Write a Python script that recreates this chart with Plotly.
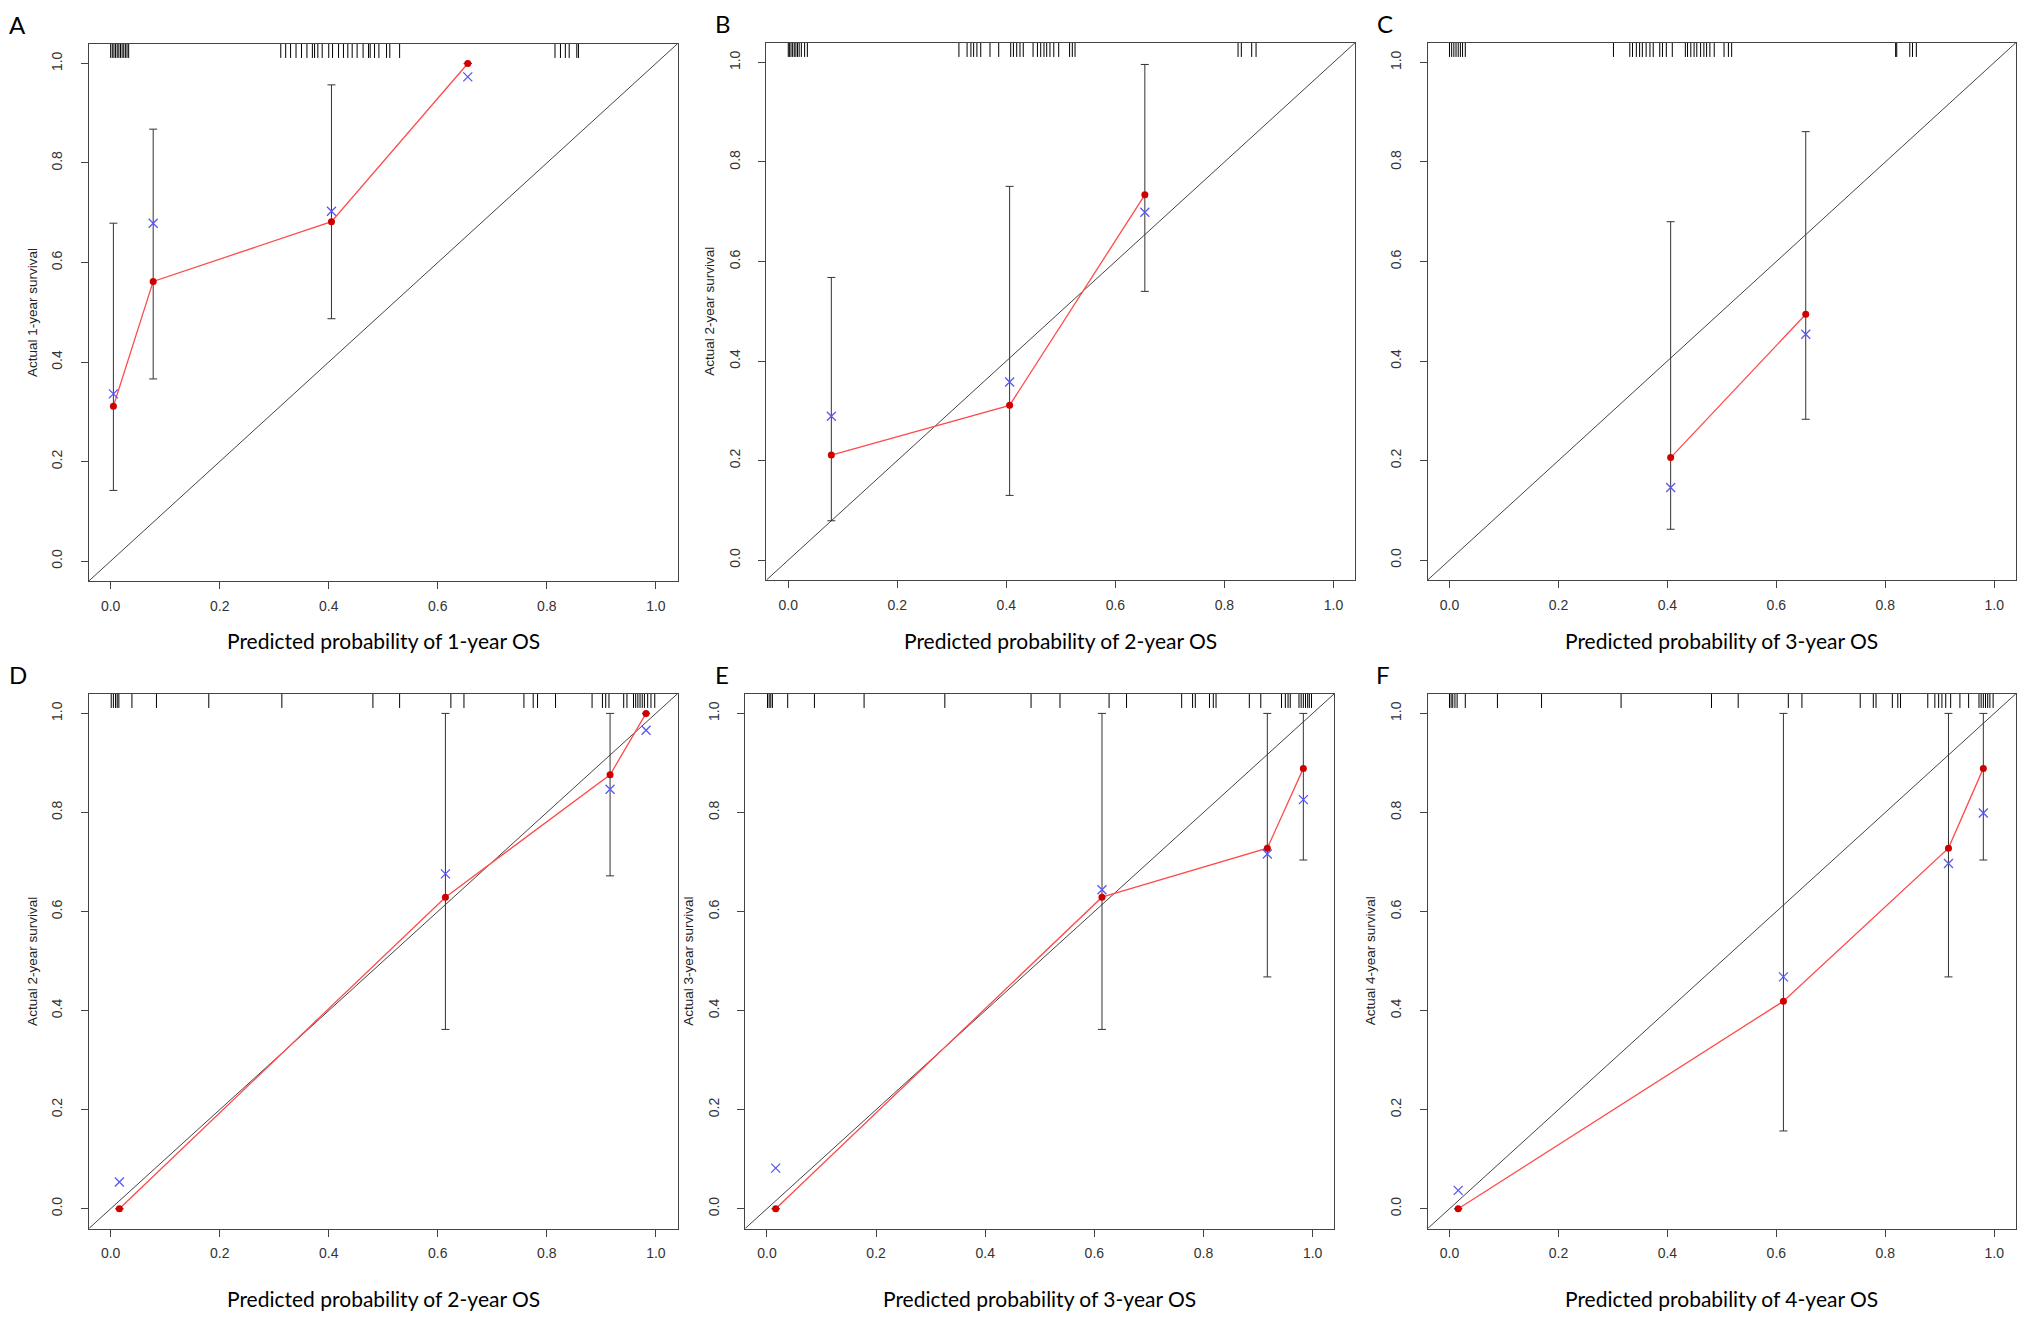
import plotly.graph_objects as go

# the page keeps its default 8px body margin, so the figure is a bit smaller than
# the 2026x1321 reference; all placement below is in reference pixels
REF_W = 2026
REF_H = 1321
FIG_W = 2010
FIG_H = 1305

AXIS_RANGE = [-0.04, 1.04]
TICKS = [0.0, 0.2, 0.4, 0.6, 0.8, 1.0]
RUG_Y = 1.028

# A: 1-year OS (first cohort)
A_PRED = [0.005, 0.078, 0.405, 0.655]
A_OBS = [0.311, 0.562, 0.682, 1.000]
A_KM = [0.336, 0.679, 0.703, 0.973]
A_LOW = [0.142, 0.366, 0.487, 1.000]
A_HIGH = [0.679, 0.868, 0.957, 1.000]
A_RUG = [0.000, 0.003, 0.006, 0.009, 0.012, 0.015, 0.018, 0.021, 0.024, 0.027, 0.030, 0.033,
         0.312, 0.321, 0.330, 0.340, 0.350, 0.360, 0.370, 0.374, 0.380, 0.388, 0.400, 0.407,
         0.418, 0.427, 0.435, 0.443, 0.452, 0.463, 0.473, 0.476, 0.484, 0.492, 0.506, 0.512,
         0.530, 0.815, 0.825, 0.834, 0.841, 0.855, 0.858]

# B: 2-year OS (first cohort)
B_PRED = [0.079, 0.406, 0.654]
B_OBS = [0.211, 0.311, 0.734]
B_KM = [0.289, 0.358, 0.699]
B_LOW = [0.079, 0.130, 0.540]
B_HIGH = [0.568, 0.751, 0.996]
B_RUG = [0.000, 0.002, 0.005, 0.008, 0.011, 0.014, 0.017, 0.020, 0.024, 0.030, 0.035,
         0.313, 0.328, 0.335, 0.340, 0.346, 0.353, 0.370, 0.386, 0.408, 0.413, 0.419, 0.425,
         0.431, 0.449, 0.457, 0.463, 0.469, 0.474, 0.480, 0.487, 0.496, 0.516, 0.521, 0.526,
         0.825, 0.831, 0.850, 0.858]

# C: 3-year OS (first cohort)
C_PRED = [0.406, 0.654]
C_OBS = [0.206, 0.494]
C_KM = [0.146, 0.454]
C_LOW = [0.062, 0.283]
C_HIGH = [0.680, 0.861]
C_RUG = [0.000, 0.004, 0.008, 0.012, 0.016, 0.020, 0.024, 0.029,
         0.301, 0.331, 0.336, 0.343, 0.349, 0.354, 0.361, 0.368, 0.374, 0.386, 0.391, 0.398,
         0.409, 0.433, 0.437, 0.443, 0.449, 0.454, 0.461, 0.467, 0.472, 0.478, 0.486, 0.504,
         0.512, 0.518, 0.819, 0.821, 0.845, 0.850, 0.857]

# D: 2-year OS (second cohort)
D_PRED = [0.016, 0.614, 0.916, 0.982]
D_OBS = [0.000, 0.629, 0.876, 1.000]
D_KM = [0.054, 0.676, 0.847, 0.966]
D_LOW = [0.000, 0.362, 0.672, 1.000]
D_HIGH = [0.000, 1.000, 1.000, 1.000]
D_RUG = [0.001, 0.005, 0.009, 0.012, 0.015, 0.039, 0.084, 0.180, 0.314, 0.481, 0.530,
         0.624, 0.648, 0.758, 0.775, 0.783, 0.816, 0.883, 0.902, 0.908, 0.914, 0.941,
         0.947, 0.959, 0.963, 0.967, 0.971, 0.975, 0.979, 0.985, 0.991, 0.998]

# E: 3-year OS (second cohort)
E_PRED = [0.016, 0.614, 0.917, 0.983]
E_OBS = [0.000, 0.629, 0.728, 0.889]
E_KM = [0.082, 0.644, 0.716, 0.826]
E_LOW = [0.000, 0.362, 0.468, 0.704]
E_HIGH = [0.000, 1.000, 1.000, 1.000]
E_RUG = [0.001, 0.004, 0.007, 0.010, 0.038, 0.087, 0.178, 0.326, 0.484, 0.537, 0.627,
         0.659, 0.760, 0.780, 0.785, 0.811, 0.818, 0.823, 0.884, 0.905, 0.943, 0.950,
         0.955, 0.959, 0.975, 0.979, 0.983, 0.987, 0.991, 0.994, 0.998]

# F: 4-year OS (second cohort)
F_PRED = [0.016, 0.613, 0.916, 0.980]
F_OBS = [0.000, 0.419, 0.728, 0.889]
F_KM = [0.037, 0.468, 0.697, 0.799]
F_LOW = [0.000, 0.157, 0.468, 0.704]
F_HIGH = [0.000, 1.000, 1.000, 1.000]
F_RUG = [0.000, 0.003, 0.006, 0.010, 0.014, 0.029, 0.088, 0.169, 0.315, 0.481, 0.530,
         0.622, 0.647, 0.754, 0.778, 0.783, 0.813, 0.823, 0.828, 0.878, 0.891, 0.898,
         0.904, 0.911, 0.920, 0.937, 0.953, 0.972, 0.976, 0.980, 0.984, 0.988, 0.992, 0.998]

X_TITLES = ['Predicted probability of 1-year OS', 'Predicted probability of 2-year OS',
            'Predicted probability of 3-year OS', 'Predicted probability of 2-year OS',
            'Predicted probability of 3-year OS', 'Predicted probability of 4-year OS']
Y_TITLES = ['Actual 1-year survival', 'Actual 2-year survival', '',
            'Actual 2-year survival', 'Actual 3-year survival', 'Actual 4-year survival']
LETTERS = ['A', 'B', 'C', 'D', 'E', 'F']

SERIES = [
    (A_PRED, A_OBS, A_KM, A_LOW, A_HIGH, A_RUG),
    (B_PRED, B_OBS, B_KM, B_LOW, B_HIGH, B_RUG),
    (C_PRED, C_OBS, C_KM, C_LOW, C_HIGH, C_RUG),
    (D_PRED, D_OBS, D_KM, D_LOW, D_HIGH, D_RUG),
    (E_PRED, E_OBS, E_KM, E_LOW, E_HIGH, E_RUG),
    (F_PRED, F_OBS, F_KM, F_LOW, F_HIGH, F_RUG),
]

# plot boxes in reference pixels: left, top, right, bottom
BOXES = [
    (81.5, 36, 675, 580),
    (764.5, 35, 1358, 579),
    (1431, 35, 2024, 579),
    (81.5, 694, 675, 1235.5),
    (743, 694, 1337, 1235.5),
    (1431, 694, 2024, 1235.5),
]
LETTER_POS = [(10, 17), (721, 16), (1388, 16), (10, 675), (720, 675), (1386, 675)]
XTITLE_Y = [640, 640, 640, 1306, 1306, 1306]
YTITLE_X = [24, 707, None, 24, 685, 1373]

LINE_RED = '#FF4B4B'
DOT_RED = '#D00000'
CROSS_BLUE = '#5858F2'
AXIS_GREY = '#444444'
TICK_FONT = dict(family='Liberation Sans, Arial, sans-serif', size=14, color='#333333')
TITLE_FONT = dict(family='Lato, Noto Sans, sans-serif', size=21, color='black')


def px_x(px):
    return px / REF_W


def px_y(py):
    return 1 - py / REF_H


fig = go.Figure()
layout = dict(
    width=FIG_W, height=FIG_H,
    margin=dict(l=0, r=0, t=0, b=0),
    paper_bgcolor='white', plot_bgcolor='white',
    showlegend=False,
    annotations=[],
)

for i, (pred, obs, km, low, high, rug) in enumerate(SERIES):
    n = '' if i == 0 else str(i + 1)
    xa, ya = f'x{n}', f'y{n}'
    left, top, right, bottom = BOXES[i]

    axis_common = dict(
        range=AXIS_RANGE, tickmode='array', tickvals=TICKS, tickformat='.1f',
        showgrid=False, zeroline=False, showline=True, mirror=True,
        linecolor=AXIS_GREY, linewidth=1, ticks='outside', ticklen=7,
        tickwidth=1, tickcolor=AXIS_GREY, tickfont=TICK_FONT,
    )
    layout[f'xaxis{n}'] = dict(axis_common, domain=[px_x(left), px_x(right)], anchor=ya,
                               ticklabelstandoff=5)
    layout[f'yaxis{n}'] = dict(axis_common, domain=[px_y(bottom), px_y(top)], anchor=xa,
                               tickangle=-90, ticklabelstandoff=13)

    # ideal line
    fig.add_trace(go.Scatter(
        x=AXIS_RANGE, y=AXIS_RANGE, mode='lines', xaxis=xa, yaxis=ya,
        line=dict(color=AXIS_GREY, width=1), hoverinfo='skip',
    ))
    # rug of predicted values
    fig.add_trace(go.Scatter(
        x=rug, y=[RUG_Y] * len(rug), mode='markers', xaxis=xa, yaxis=ya,
        marker=dict(symbol='line-ns-open', size=12, color='black',
                    line=dict(color='black', width=1)),
        hoverinfo='skip',
    ))
    # calibration curve
    fig.add_trace(go.Scatter(
        x=pred, y=obs, mode='lines', xaxis=xa, yaxis=ya,
        line=dict(color=LINE_RED, width=1.3),
    ))
    fig.add_trace(go.Scatter(
        x=pred, y=obs, mode='markers', xaxis=xa, yaxis=ya,
        marker=dict(color=DOT_RED, size=7),
        error_y=dict(
            type='data', symmetric=False,
            array=[h - o for h, o in zip(high, obs)],
            arrayminus=[o - l for o, l in zip(obs, low)],
            color='#333333', thickness=1, width=4,
        ),
    ))
    # KM estimates
    fig.add_trace(go.Scatter(
        x=pred, y=km, mode='markers', xaxis=xa, yaxis=ya,
        marker=dict(symbol='x-thin-open', size=9, color=CROSS_BLUE,
                    line=dict(color=CROSS_BLUE, width=1.3)),
    ))

    cy = (top + bottom) / 2
    layout['annotations'].append(dict(
        x=px_x((left + right) / 2), y=px_y(XTITLE_Y[i]), xref='paper', yref='paper',
        text=X_TITLES[i], showarrow=False, font=TITLE_FONT, xanchor='center', yanchor='middle',
    ))
    if Y_TITLES[i]:
        layout['annotations'].append(dict(
            x=px_x(YTITLE_X[i]), y=px_y(cy), xref='paper', yref='paper',
            text=Y_TITLES[i], showarrow=False, textangle=-90,
            font=dict(family='Liberation Sans, Arial, sans-serif', size=13.5, color='#222222'),
            xanchor='center', yanchor='middle',
        ))
    lx, ly = LETTER_POS[i]
    layout['annotations'].append(dict(
        x=px_x(lx), y=px_y(ly), xref='paper', yref='paper', text=LETTERS[i],
        showarrow=False, font=dict(family='Lato, Noto Sans, sans-serif', size=24, color='black'),
        xanchor='center', yanchor='middle',
    ))

fig.update_layout(**layout)
fig.write_html('out.html')
